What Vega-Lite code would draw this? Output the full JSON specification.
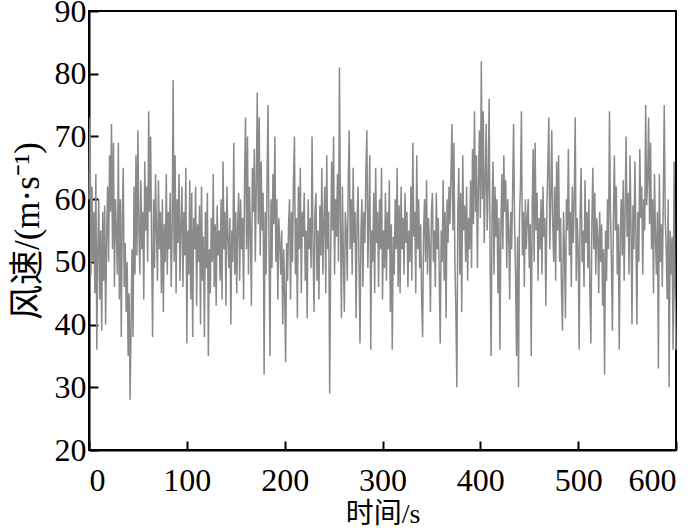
{
  "$schema": "https://vega.github.io/schema/vega-lite/v6.json",
  "width": 587,
  "height": 439,
  "autosize": {"type": "none"},
  "padding": {"left": 89, "top": 11, "right": 24, "bottom": 81},
  "background": "white",
  "config": {
    "view": {"stroke": "black", "strokeWidth": 2},
    "axis": {
      "grid": false,
      "domainColor": "black",
      "domainWidth": 2,
      "tickColor": "black",
      "tickWidth": 2,
      "tickSize": -9,
      "labelFont": "Liberation Serif",
      "labelFontSize": 32,
      "labelColor": "black",
      "titleFont": "Liberation Serif, Noto Sans CJK SC",
      "titleFontWeight": "normal",
      "titleColor": "black"
    }
  },
  "data": {"values": [
{"t":0,"v":60},{"t":1,"v":73},{"t":2,"v":48},{"t":3,"v":62},{"t":4,"v":50},{"t":5,"v":58},{"t":6,"v":45},{"t":7,"v":64},{"t":8,"v":36},{"t":9,"v":52},
{"t":10,"v":60},{"t":11,"v":44},{"t":12,"v":55},{"t":13,"v":39},{"t":14,"v":58},{"t":15,"v":47},{"t":16,"v":59},{"t":17,"v":40},{"t":18,"v":54},{"t":19,"v":62},
{"t":20,"v":50},{"t":21,"v":67},{"t":22,"v":58},{"t":23,"v":72},{"t":24,"v":52},{"t":25,"v":69},{"t":26,"v":46},{"t":27,"v":60},{"t":28,"v":55},{"t":29,"v":48},
{"t":30,"v":69},{"t":31,"v":44},{"t":32,"v":60},{"t":33,"v":38},{"t":34,"v":57},{"t":35,"v":65},{"t":36,"v":46},{"t":37,"v":53},{"t":38,"v":42},{"t":39,"v":50},
{"t":40,"v":35},{"t":41,"v":45},{"t":42,"v":28},{"t":43,"v":40},{"t":44,"v":52},{"t":45,"v":38},{"t":46,"v":62},{"t":47,"v":48},{"t":48,"v":67},{"t":49,"v":51},
{"t":50,"v":71},{"t":51,"v":55},{"t":52,"v":48},{"t":53,"v":63},{"t":54,"v":52},{"t":55,"v":58},{"t":56,"v":44},{"t":57,"v":66},{"t":58,"v":55},{"t":59,"v":62},
{"t":60,"v":50},{"t":61,"v":74},{"t":62,"v":58},{"t":63,"v":70},{"t":64,"v":52},{"t":65,"v":38},{"t":66,"v":60},{"t":67,"v":49},{"t":68,"v":64},{"t":69,"v":55},
{"t":70,"v":47},{"t":71,"v":63},{"t":72,"v":52},{"t":73,"v":58},{"t":74,"v":45},{"t":75,"v":60},{"t":76,"v":42},{"t":77,"v":56},{"t":78,"v":50},{"t":79,"v":64},
{"t":80,"v":48},{"t":81,"v":58},{"t":82,"v":52},{"t":83,"v":61},{"t":84,"v":46},{"t":85,"v":55},{"t":86,"v":79},{"t":87,"v":50},{"t":88,"v":67},{"t":89,"v":45},
{"t":90,"v":60},{"t":91,"v":53},{"t":92,"v":64},{"t":93,"v":47},{"t":94,"v":56},{"t":95,"v":62},{"t":96,"v":46},{"t":97,"v":58},{"t":98,"v":51},{"t":99,"v":65},
{"t":100,"v":37},{"t":101,"v":55},{"t":102,"v":48},{"t":103,"v":63},{"t":104,"v":44},{"t":105,"v":61},{"t":106,"v":38},{"t":107,"v":57},{"t":108,"v":52},{"t":109,"v":62},
{"t":110,"v":43},{"t":111,"v":56},{"t":112,"v":50},{"t":113,"v":59},{"t":114,"v":40},{"t":115,"v":62},{"t":116,"v":47},{"t":117,"v":54},{"t":118,"v":38},{"t":119,"v":58},
{"t":120,"v":49},{"t":121,"v":61},{"t":122,"v":35},{"t":123,"v":52},{"t":124,"v":45},{"t":125,"v":57},{"t":126,"v":50},{"t":127,"v":64},{"t":128,"v":46},{"t":129,"v":56},
{"t":130,"v":43},{"t":131,"v":59},{"t":132,"v":51},{"t":133,"v":55},{"t":134,"v":47},{"t":135,"v":60},{"t":136,"v":44},{"t":137,"v":66},{"t":138,"v":52},{"t":139,"v":58},
{"t":140,"v":43},{"t":141,"v":62},{"t":142,"v":54},{"t":143,"v":49},{"t":144,"v":57},{"t":145,"v":40},{"t":146,"v":55},{"t":147,"v":50},{"t":148,"v":69},{"t":149,"v":48},
{"t":150,"v":58},{"t":151,"v":45},{"t":152,"v":56},{"t":153,"v":61},{"t":154,"v":47},{"t":155,"v":60},{"t":156,"v":52},{"t":157,"v":57},{"t":158,"v":44},{"t":159,"v":63},
{"t":160,"v":73},{"t":161,"v":52},{"t":162,"v":70},{"t":163,"v":48},{"t":164,"v":62},{"t":165,"v":55},{"t":166,"v":43},{"t":167,"v":65},{"t":168,"v":58},{"t":169,"v":68},
{"t":170,"v":50},{"t":171,"v":62},{"t":172,"v":77},{"t":173,"v":56},{"t":174,"v":73},{"t":175,"v":51},{"t":176,"v":66},{"t":177,"v":55},{"t":178,"v":61},{"t":179,"v":32},
{"t":180,"v":58},{"t":181,"v":48},{"t":182,"v":63},{"t":183,"v":75},{"t":184,"v":52},{"t":185,"v":35},{"t":186,"v":60},{"t":187,"v":49},{"t":188,"v":64},{"t":189,"v":56},
{"t":190,"v":70},{"t":191,"v":50},{"t":192,"v":60},{"t":193,"v":44},{"t":194,"v":57},{"t":195,"v":53},{"t":196,"v":48},{"t":197,"v":55},{"t":198,"v":40},{"t":199,"v":52},
{"t":200,"v":45},{"t":201,"v":34},{"t":202,"v":53},{"t":203,"v":47},{"t":204,"v":56},{"t":205,"v":60},{"t":206,"v":44},{"t":207,"v":58},{"t":208,"v":50},{"t":209,"v":63},
{"t":210,"v":70},{"t":211,"v":48},{"t":212,"v":57},{"t":213,"v":41},{"t":214,"v":62},{"t":215,"v":52},{"t":216,"v":65},{"t":217,"v":45},{"t":218,"v":58},{"t":219,"v":54},
{"t":220,"v":61},{"t":221,"v":47},{"t":222,"v":55},{"t":223,"v":41},{"t":224,"v":60},{"t":225,"v":52},{"t":226,"v":57},{"t":227,"v":49},{"t":228,"v":70},{"t":229,"v":53},
{"t":230,"v":42},{"t":231,"v":58},{"t":232,"v":61},{"t":233,"v":47},{"t":234,"v":55},{"t":235,"v":44},{"t":236,"v":59},{"t":237,"v":51},{"t":238,"v":65},{"t":239,"v":48},
{"t":240,"v":56},{"t":241,"v":62},{"t":242,"v":45},{"t":243,"v":67},{"t":244,"v":52},{"t":245,"v":58},{"t":246,"v":29},{"t":247,"v":50},{"t":248,"v":66},{"t":249,"v":55},
{"t":250,"v":70},{"t":251,"v":48},{"t":252,"v":60},{"t":253,"v":54},{"t":254,"v":64},{"t":255,"v":50},{"t":256,"v":81},{"t":257,"v":57},{"t":258,"v":41},{"t":259,"v":62},
{"t":260,"v":51},{"t":261,"v":42},{"t":262,"v":58},{"t":263,"v":55},{"t":264,"v":47},{"t":265,"v":63},{"t":266,"v":71},{"t":267,"v":52},{"t":268,"v":60},{"t":269,"v":48},
{"t":270,"v":65},{"t":271,"v":53},{"t":272,"v":58},{"t":273,"v":41},{"t":274,"v":56},{"t":275,"v":62},{"t":276,"v":50},{"t":277,"v":37},{"t":278,"v":55},{"t":279,"v":60},
{"t":280,"v":46},{"t":281,"v":58},{"t":282,"v":53},{"t":283,"v":64},{"t":284,"v":71},{"t":285,"v":49},{"t":286,"v":57},{"t":287,"v":67},{"t":288,"v":36},{"t":289,"v":55},
{"t":290,"v":50},{"t":291,"v":61},{"t":292,"v":45},{"t":293,"v":65},{"t":294,"v":53},{"t":295,"v":58},{"t":296,"v":46},{"t":297,"v":60},{"t":298,"v":52},{"t":299,"v":65},
{"t":300,"v":44},{"t":301,"v":55},{"t":302,"v":49},{"t":303,"v":61},{"t":304,"v":47},{"t":305,"v":58},{"t":306,"v":52},{"t":307,"v":63},{"t":308,"v":42},{"t":309,"v":56},
{"t":310,"v":36},{"t":311,"v":54},{"t":312,"v":48},{"t":313,"v":60},{"t":314,"v":52},{"t":315,"v":65},{"t":316,"v":46},{"t":317,"v":59},{"t":318,"v":45},{"t":319,"v":62},
{"t":320,"v":52},{"t":321,"v":57},{"t":322,"v":48},{"t":323,"v":61},{"t":324,"v":53},{"t":325,"v":58},{"t":326,"v":46},{"t":327,"v":55},{"t":328,"v":50},{"t":329,"v":62},
{"t":330,"v":47},{"t":331,"v":69},{"t":332,"v":54},{"t":333,"v":58},{"t":334,"v":45},{"t":335,"v":67},{"t":336,"v":52},{"t":337,"v":60},{"t":338,"v":49},{"t":339,"v":56},
{"t":340,"v":44},{"t":341,"v":38},{"t":342,"v":55},{"t":343,"v":60},{"t":344,"v":50},{"t":345,"v":63},{"t":346,"v":48},{"t":347,"v":57},{"t":348,"v":53},{"t":349,"v":42},
{"t":350,"v":58},{"t":351,"v":61},{"t":352,"v":50},{"t":353,"v":55},{"t":354,"v":46},{"t":355,"v":61},{"t":356,"v":52},{"t":357,"v":57},{"t":358,"v":48},{"t":359,"v":37},
{"t":360,"v":55},{"t":361,"v":50},{"t":362,"v":63},{"t":363,"v":47},{"t":364,"v":58},{"t":365,"v":41},{"t":366,"v":60},{"t":367,"v":53},{"t":368,"v":62},{"t":369,"v":56},
{"t":370,"v":64},{"t":371,"v":72},{"t":372,"v":55},{"t":373,"v":69},{"t":374,"v":50},{"t":375,"v":42},{"t":376,"v":30},{"t":377,"v":58},{"t":378,"v":65},{"t":379,"v":48},
{"t":380,"v":61},{"t":381,"v":42},{"t":382,"v":67},{"t":383,"v":55},{"t":384,"v":59},{"t":385,"v":50},{"t":386,"v":62},{"t":387,"v":47},{"t":388,"v":57},{"t":389,"v":52},
{"t":390,"v":63},{"t":391,"v":49},{"t":392,"v":68},{"t":393,"v":56},{"t":394,"v":74},{"t":395,"v":58},{"t":396,"v":67},{"t":397,"v":49},{"t":398,"v":62},{"t":399,"v":71},
{"t":400,"v":57},{"t":401,"v":82},{"t":402,"v":60},{"t":403,"v":74},{"t":404,"v":53},{"t":405,"v":63},{"t":406,"v":72},{"t":407,"v":55},{"t":408,"v":62},{"t":409,"v":76},
{"t":410,"v":50},{"t":411,"v":35},{"t":412,"v":58},{"t":413,"v":66},{"t":414,"v":48},{"t":415,"v":62},{"t":416,"v":54},{"t":417,"v":60},{"t":418,"v":45},{"t":419,"v":57},
{"t":420,"v":36},{"t":421,"v":55},{"t":422,"v":64},{"t":423,"v":52},{"t":424,"v":67},{"t":425,"v":58},{"t":426,"v":63},{"t":427,"v":49},{"t":428,"v":60},{"t":429,"v":55},
{"t":430,"v":44},{"t":431,"v":58},{"t":432,"v":52},{"t":433,"v":61},{"t":434,"v":72},{"t":435,"v":56},{"t":436,"v":48},{"t":437,"v":35},{"t":438,"v":54},{"t":439,"v":30},
{"t":440,"v":57},{"t":441,"v":62},{"t":442,"v":74},{"t":443,"v":51},{"t":444,"v":58},{"t":445,"v":46},{"t":446,"v":60},{"t":447,"v":52},{"t":448,"v":57},{"t":449,"v":60},
{"t":450,"v":49},{"t":451,"v":56},{"t":452,"v":35},{"t":453,"v":58},{"t":454,"v":68},{"t":455,"v":50},{"t":456,"v":69},{"t":457,"v":55},{"t":458,"v":61},{"t":459,"v":47},
{"t":460,"v":57},{"t":461,"v":52},{"t":462,"v":60},{"t":463,"v":48},{"t":464,"v":62},{"t":465,"v":54},{"t":466,"v":57},{"t":467,"v":43},{"t":468,"v":59},{"t":469,"v":65},
{"t":470,"v":73},{"t":471,"v":52},{"t":472,"v":60},{"t":473,"v":71},{"t":474,"v":56},{"t":475,"v":50},{"t":476,"v":62},{"t":477,"v":47},{"t":478,"v":66},{"t":479,"v":55},
{"t":480,"v":67},{"t":481,"v":50},{"t":482,"v":57},{"t":483,"v":45},{"t":484,"v":39},{"t":485,"v":58},{"t":486,"v":52},{"t":487,"v":41},{"t":488,"v":60},{"t":489,"v":55},
{"t":490,"v":68},{"t":491,"v":51},{"t":492,"v":58},{"t":493,"v":46},{"t":494,"v":62},{"t":495,"v":53},{"t":496,"v":60},{"t":497,"v":73},{"t":498,"v":47},{"t":499,"v":57},
{"t":500,"v":52},{"t":501,"v":36},{"t":502,"v":58},{"t":503,"v":65},{"t":504,"v":50},{"t":505,"v":55},{"t":506,"v":46},{"t":507,"v":63},{"t":508,"v":53},{"t":509,"v":58},
{"t":510,"v":49},{"t":511,"v":60},{"t":512,"v":45},{"t":513,"v":37},{"t":514,"v":56},{"t":515,"v":65},{"t":516,"v":52},{"t":517,"v":61},{"t":518,"v":48},{"t":519,"v":57},
{"t":520,"v":54},{"t":521,"v":45},{"t":522,"v":58},{"t":523,"v":50},{"t":524,"v":56},{"t":525,"v":43},{"t":526,"v":52},{"t":527,"v":32},{"t":528,"v":55},{"t":529,"v":47},
{"t":530,"v":60},{"t":531,"v":52},{"t":532,"v":74},{"t":533,"v":58},{"t":534,"v":50},{"t":535,"v":39},{"t":536,"v":57},{"t":537,"v":67},{"t":538,"v":55},{"t":539,"v":62},
{"t":540,"v":48},{"t":541,"v":56},{"t":542,"v":36},{"t":543,"v":54},{"t":544,"v":60},{"t":545,"v":51},{"t":546,"v":63},{"t":547,"v":47},{"t":548,"v":58},{"t":549,"v":70},
{"t":550,"v":54},{"t":551,"v":61},{"t":552,"v":48},{"t":553,"v":67},{"t":554,"v":56},{"t":555,"v":40},{"t":556,"v":59},{"t":557,"v":52},{"t":558,"v":66},{"t":559,"v":55},
{"t":560,"v":40},{"t":561,"v":58},{"t":562,"v":50},{"t":563,"v":68},{"t":564,"v":57},{"t":565,"v":62},{"t":566,"v":48},{"t":567,"v":60},{"t":568,"v":55},{"t":569,"v":75},
{"t":570,"v":59},{"t":571,"v":63},{"t":572,"v":73},{"t":573,"v":56},{"t":574,"v":69},{"t":575,"v":52},{"t":576,"v":60},{"t":577,"v":45},{"t":578,"v":64},{"t":579,"v":54},
{"t":580,"v":48},{"t":581,"v":58},{"t":582,"v":33},{"t":583,"v":64},{"t":584,"v":50},{"t":585,"v":56},{"t":586,"v":46},{"t":587,"v":60},{"t":588,"v":75},{"t":589,"v":57},
{"t":590,"v":52},{"t":591,"v":44},{"t":592,"v":60},{"t":593,"v":30},{"t":594,"v":55},{"t":595,"v":48},{"t":596,"v":54},{"t":597,"v":36},{"t":598,"v":66},{"t":599,"v":45},
{"t":600,"v":36}
  ]},
  "mark": {"type": "line", "color": "#8a8a8a", "strokeWidth": 1.5},
  "encoding": {
    "x": {
      "field": "t", "type": "quantitative",
      "scale": {"domain": [0, 600], "nice": false},
      "axis": {"values": [0, 100, 200, 300, 400, 500, 600], "title": "时间/s", "titleFontSize": 28, "labelPadding": 24, "titlePadding": 4}
    },
    "y": {
      "field": "v", "type": "quantitative",
      "scale": {"domain": [20, 90], "nice": false, "zero": false},
      "axis": {"values": [20, 30, 40, 50, 60, 70, 80, 90], "title": "风速/(m·s⁻¹)", "titleFontSize": 35, "labelPadding": 12, "titlePadding": 9}
    }
  }
}
